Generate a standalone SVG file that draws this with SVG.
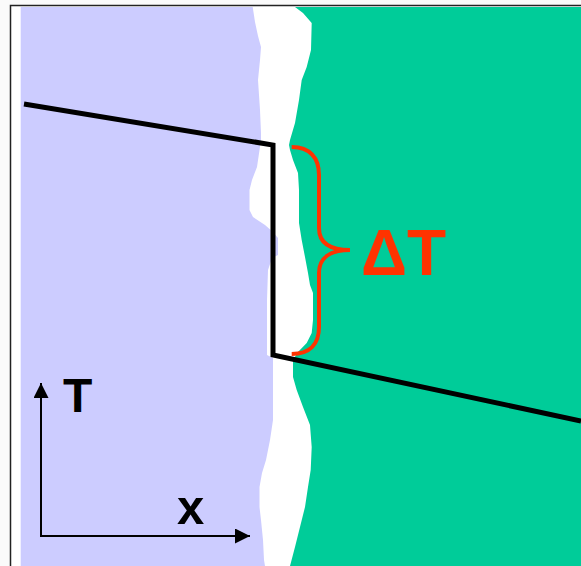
<svg xmlns="http://www.w3.org/2000/svg" width="581" height="566" viewBox="0 0 581 566">
<defs>
<style>
.lbl{font-family:"Liberation Sans",Arial,sans-serif;font-weight:bold}
.axis{stroke:#000;stroke-width:2;fill:none}
</style>
<marker id="ah" markerUnits="userSpaceOnUse" markerWidth="16" markerHeight="16" refX="15" refY="7.5" orient="auto">
<path d="M0,0 L15,7.5 L0,15 Z" fill="#000"/>
</marker>
</defs>
<rect x="0" y="0" width="581" height="566" fill="#fafafa"/>
<rect x="10.5" y="5.5" width="580" height="570" fill="#fff" stroke="#222" stroke-width="1.5"/>
<g id="solid">
<path fill="#ccccff" d="M20.7,7 L252.7,7 L255,22 L258,36 L261,47 L260,60 L258,80 L260,110 L261,133 L261,140 L257,167 L252,180 L249.5,190 L249.5,210 L253,217 L265,225 L273,232 L278,238 L278,255 L272,258 L268,270 L267,300 L267,355 L273,358 L273,420 L270,440 L266,460 L262,473 L259.5,487 L259.5,507 L261,520 L263,540 L264,560 L265,566 L20.7,566 Z"/>
</g>
<g id="liquid">
<path fill="#00cc99" d="M295,7 L303,13 L311.7,23 L311,50 L306.7,67 L301.7,80 L299,100 L295,123 L290,140 L289,145 L290,150 L293,160 L298,173 L299,190 L299,223 L301.7,240 L305,257 L308,273 L310,285 L313,293 L313,320 L311.7,333 L306.7,343 L298,352 L293,360 L293,377 L296.7,390 L303,407 L310,425 L311.7,447 L310.7,470 L308,487 L305,507 L300,527 L295,547 L290,566 L581,566 L581,7 Z"/>
</g>
<g id="profile">
<polyline points="24,104 273,145 273,355 581,421" fill="none" stroke="#000" stroke-width="5" stroke-linejoin="miter"/>
</g>
<g id="delta">
<path d="M291.7,147 C310,147 319,158 319,175 L319,228 C319,243 330,250 350,250 C330,250 319,258 319,273 L319,327 C319,344 310,354 291.7,354" fill="none" stroke="#ff3300" stroke-width="4"/>
<text class="lbl" x="361" y="275" font-size="64" fill="#ff3300">ΔT</text>
</g>
<g id="axes">
<line class="axis" x1="41" y1="536" x2="41" y2="383" marker-end="url(#ah)"/>
<line class="axis" x1="40" y1="536" x2="250" y2="536" marker-end="url(#ah)"/>
<text class="lbl" x="63" y="412" font-size="48" fill="#000">T</text>
<text class="lbl" x="177" y="524" font-size="49" fill="#000">x</text>
</g>
</svg>
